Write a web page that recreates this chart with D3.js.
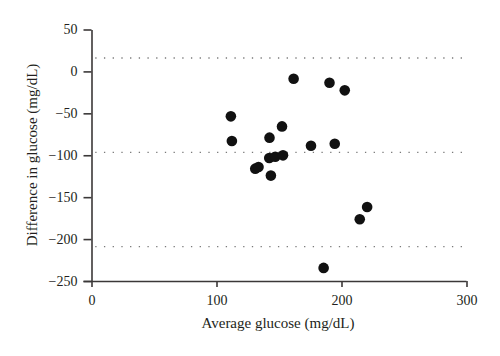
<!DOCTYPE html>
<html><head><meta charset="utf-8">
<script src="https://cdn.jsdelivr.net/npm/d3@7"></script>
<style>
body{margin:0;background:#fff;}
text{font-family:"Liberation Serif","DejaVu Serif",serif;fill:#231f20;}
</style></head>
<body><svg id="c" width="500" height="356"></svg>
<script>
const avgGlucose = [161.7,190.4,202.6,111.5,112.3,142.4,152.4,175.6,194.6,142.2,147,153.2,131,133.6,143.5,220.5,214.6,185.7];
const diffGlucose = [-8.7,-13.5,-22.6,-53.6,-83,-79,-65.6,-88.6,-86.2,-103.3,-101.8,-100.1,-116,-114,-124.3,-161.7,-176.4,-234.4];
const limits = [16,-96.5,-209];
const xTicks = [0,100,200,300];
const yTicks = [50,0,-50,-100,-150,-200,-250];
const xTitle = "Average glucose (mg/dL)";
const yTitle = "Difference in glucose (mg/dL)";

const svg = d3.select("#c");
const x = d3.scaleLinear().domain([0,300]).range([91.5,466.5]);
const y = d3.scaleLinear().domain([-250,50]).range([281,29.5]);
const axisColor = "#3b3838";

svg.selectAll("line.lim").data(limits).enter().append("line")
  .attr("class","lim")
  .attr("x1", x(3)).attr("x2", x(298))
  .attr("y1", d=>y(d)).attr("y2", d=>y(d))
  .attr("stroke","#7a7a7a").attr("stroke-width",1.3)
  .attr("stroke-dasharray","1.3,7.4");

const gx = svg.append("g").attr("transform",`translate(0,${y(-250)})`)
  .call(d3.axisBottom(x).tickValues(xTicks).tickSize(6).tickSizeOuter(0).tickPadding(8));
const gy = svg.append("g").attr("transform",`translate(${x(0)},0)`)
  .call(d3.axisLeft(y).tickValues(yTicks).tickSize(8).tickSizeOuter(0).tickPadding(6)
  .tickFormat(d=>d<0?"\u2212"+Math.abs(d):d));
[gx,gy].forEach(g=>{
  g.selectAll("path,line").attr("stroke",axisColor).attr("stroke-width",1.6);
  g.selectAll("text").attr("font-size",14).attr("font-family","Liberation Serif, serif").attr("fill","#231f20");
});
gx.select("path").attr("d",`M${x(0)-8},0.5H${x(300)}`);

svg.selectAll("circle").data(avgGlucose).enter().append("circle")
  .attr("cx",d=>x(d)).attr("cy",(d,i)=>y(diffGlucose[i])).attr("r",5.3).attr("fill","#111");

svg.append("text").attr("x",278).attr("y",328).attr("text-anchor","middle").attr("font-size",15).text(xTitle);
svg.append("text").attr("transform","translate(37,155) rotate(-90)").attr("text-anchor","middle").attr("font-size",15).text(yTitle);
</script></body></html>
